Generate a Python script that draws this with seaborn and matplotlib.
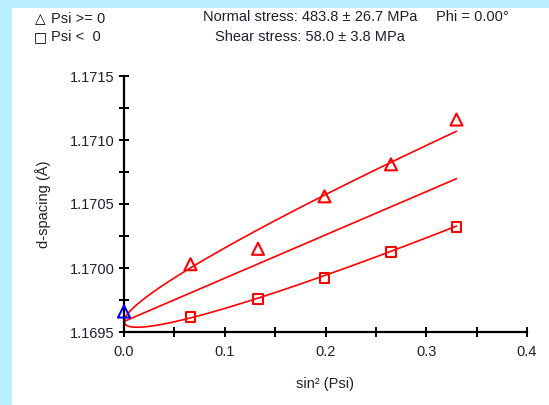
import numpy as np
import pandas as pd
import matplotlib
matplotlib.use("Agg")
import matplotlib.pyplot as plt
from matplotlib.patches import Rectangle
from matplotlib.ticker import MultipleLocator, FormatStrFormatter
import seaborn as sns

# sin^2(psi) positions and measured d-spacings (Angstrom)
sin2psi_pos = [0.0, 0.066, 0.133, 0.199, 0.265, 0.330]
d_pos = [1.16966, 1.17003, 1.17015, 1.17056, 1.17081, 1.17116]
sin2psi_neg = [0.066, 0.133, 0.199, 0.265, 0.330]
d_neg = [1.16962, 1.169755, 1.169924, 1.170127, 1.170323]

legend_labels = ["Psi >= 0", "Psi <  0"]
stress_lines = ["Normal stress: 483.8 \u00b1 26.7 MPa", "Shear stress: 58.0 \u00b1 3.8 MPa"]
phi_label = "Phi = 0.00\u00b0"
x_ticks = [0.0, 0.1, 0.2, 0.3, 0.4]
y_ticks = [1.1695, 1.1700, 1.1705, 1.1710, 1.1715]

sns.set_theme(style="white")
plt.rcParams["font.family"] = ["Liberation Sans", "DejaVu Sans"]
FS = 10.5
TXT = "#1f1f2f"

# psi-splitting fit: d = a + b*sin^2(psi) +/- c*sin|2psi|
s_all = np.array(sin2psi_pos + sin2psi_neg)
sgn = np.array([1.0] * len(sin2psi_pos) + [-1.0] * len(sin2psi_neg))
d_all = np.array(d_pos + d_neg)
A = np.column_stack([np.ones_like(s_all), s_all, sgn * 2 * np.sqrt(s_all * (1 - s_all))])
a, b, c = np.linalg.lstsq(A, d_all, rcond=None)[0]

s_grid = np.linspace(0.0, max(sin2psi_pos), 200)
split = 2 * np.sqrt(s_grid * (1 - s_grid))
fits = pd.concat([
    pd.DataFrame({"s": s_grid, "d": a + b * s_grid + c * split, "branch": "upper"}),
    pd.DataFrame({"s": s_grid, "d": a + b * s_grid, "branch": "mean"}),
    pd.DataFrame({"s": s_grid, "d": a + b * s_grid - c * split, "branch": "lower"}),
])

W, H = 549, 405
fig = plt.figure(figsize=(W / 100, H / 100), dpi=100, facecolor="#b9efff")
fig.patches.append(Rectangle((12 / W, 0), 1, (H - 8) / H, transform=fig.transFigure,
                             facecolor="white", edgecolor="none", zorder=-10))
ax = fig.add_axes([124 / W, 1 - 332 / H, (527 - 124) / W, (332 - 76) / H])
ax.set_zorder(5)
ax.set_facecolor("none")

sns.lineplot(data=fits, x="s", y="d", units="branch", estimator=None, color="red",
             linewidth=1.2, ax=ax, sort=False)

pos_df = pd.DataFrame({"s": sin2psi_pos, "d": d_pos})
neg_df = pd.DataFrame({"s": sin2psi_neg, "d": d_neg})
sns.scatterplot(data=pos_df.iloc[1:], x="s", y="d", marker="^", s=75, facecolor="none",
                edgecolor="red", linewidth=1.5, ax=ax, clip_on=False, zorder=4)
sns.scatterplot(data=pos_df.iloc[:1], x="s", y="d", marker="^", s=75, facecolor="none",
                edgecolor="blue", linewidth=1.5, ax=ax, clip_on=False, zorder=5)
sns.scatterplot(data=neg_df, x="s", y="d", marker="s", s=50, facecolor="none",
                edgecolor="red", linewidth=1.5, ax=ax, clip_on=False, zorder=4)

ax.set_xlim(0.0, 0.4)
ax.set_ylim(1.1695, 1.1715)
ax.set_xticks(x_ticks)
ax.set_yticks(y_ticks)
ax.xaxis.set_minor_locator(MultipleLocator(0.05))
ax.yaxis.set_minor_locator(MultipleLocator(0.00025))
ax.xaxis.set_major_formatter(FormatStrFormatter("%.1f"))
ax.yaxis.set_major_formatter(FormatStrFormatter("%.4f"))
for side in ["top", "right"]:
    ax.spines[side].set_visible(False)
for side in ["left", "bottom"]:
    ax.spines[side].set_color("black")
    ax.spines[side].set_linewidth(1.6)
ax.tick_params(which="both", direction="inout", length=7, width=1.4, color="black",
               labelsize=FS, labelcolor=TXT, bottom=True, left=True)
ax.tick_params(axis="x", which="both", pad=6)
ax.tick_params(axis="y", which="both", pad=3)

ax.set_xlabel("sin\u00b2 (Psi)", fontsize=FS, color=TXT, labelpad=13)
ax.set_ylabel("d-spacing (\u00c5)", fontsize=FS, color=TXT, labelpad=14)

# legend and header texts
fig.text(40 / W, 1 - 19 / H, "\u25b3", fontsize=10, ha="center", va="center",
         family=["DejaVu Sans"], color="black")
fig.text(40 / W, 1 - 37 / H, "\u25a1", fontsize=10, ha="center", va="center",
         family=["DejaVu Sans"], color="black")
fig.text(51 / W, 1 - 19 / H, legend_labels[0], fontsize=FS, ha="left", va="center", color=TXT)
fig.text(51 / W, 1 - 37 / H, legend_labels[1], fontsize=FS, ha="left", va="center", color=TXT)
fig.text(310 / W, 1 - 17 / H, stress_lines[0], fontsize=FS, ha="center", va="center", color=TXT)
fig.text(310 / W, 1 - 37 / H, stress_lines[1], fontsize=FS, ha="center", va="center", color=TXT)
fig.text(472 / W, 1 - 17 / H, phi_label, fontsize=FS, ha="center", va="center", color=TXT)

fig.savefig("out.png", dpi=100, facecolor=fig.get_facecolor())
